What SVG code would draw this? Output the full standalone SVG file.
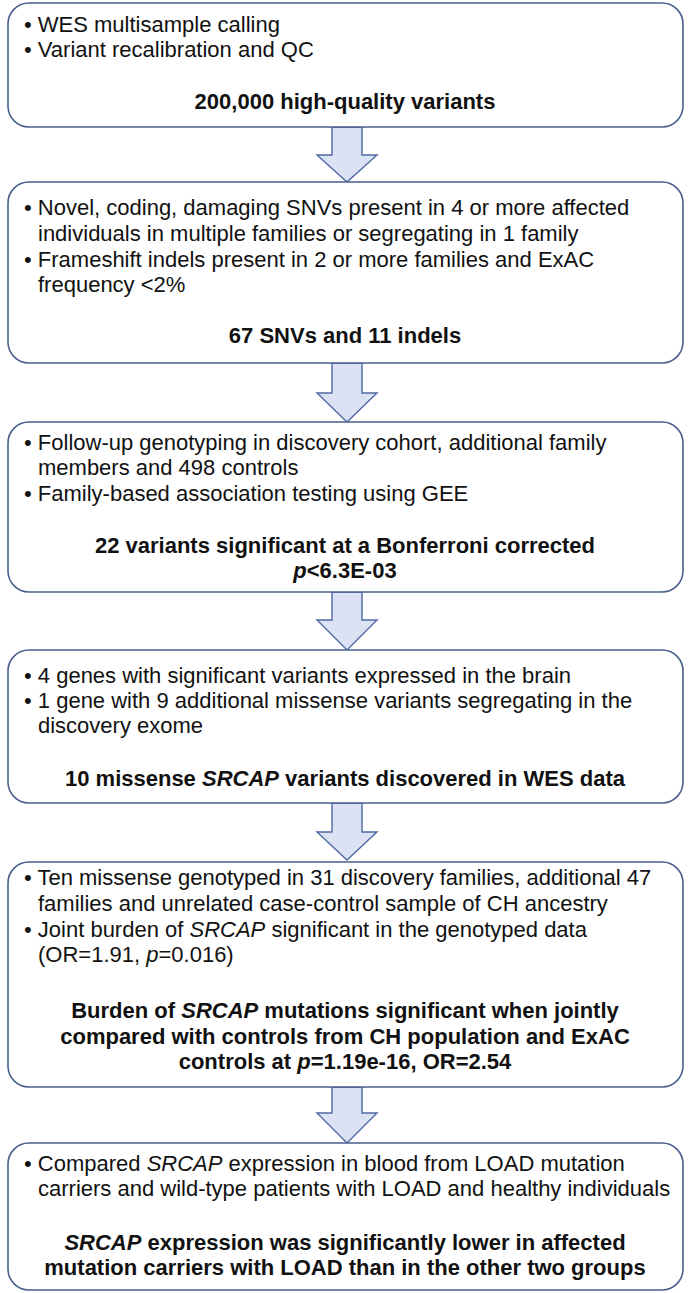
<svg xmlns="http://www.w3.org/2000/svg" width="690" height="1293" viewBox="0 0 690 1293">
<style>
.box{fill:#ffffff;stroke:#4a5f8f;stroke-width:1.6}
.arr{fill:#dbe2f3;stroke:#4f6aa3;stroke-width:1.4;stroke-linejoin:miter}
text{font-family:"Liberation Sans",Arial,sans-serif;font-size:22px;fill:#111}
.b{font-weight:bold;text-anchor:middle}
.i{font-style:italic}
</style>
<rect width="690" height="1293" fill="#ffffff"/>
<g id="connectors">
<path class="arr" d="M332,127 V155 H317 L347,182 L377,155 H362 V127 Z"/>
<path class="arr" d="M332,363 V393 H317 L347,422 L377,393 H362 V363 Z"/>
<path class="arr" d="M332,592 V620 H317 L347,650 L377,620 H362 V592 Z"/>
<path class="arr" d="M332,803 V832 H317 L347,860 L377,832 H362 V803 Z"/>
<path class="arr" d="M332,1087 V1113 H317 L347,1143 L377,1113 H362 V1087 Z"/>
</g>
<g id="node1">
<rect class="box" x="8" y="3" width="675" height="124" rx="21"/>
<text x="24" y="32">• WES multisample calling</text>
<text x="24" y="57">• Variant recalibration and QC</text>
<text class="b" x="345" y="109">200,000 high-quality variants</text>
</g>
<g id="node2">
<rect class="box" x="8" y="182" width="675" height="181" rx="21"/>
<text x="24" y="215">• Novel, coding, damaging SNVs present in 4 or more affected</text>
<text x="38" y="241">individuals in multiple families or segregating in 1 family</text>
<text x="24" y="267">• Frameshift indels present in 2 or more families and ExAC</text>
<text x="38" y="292">frequency &lt;2%</text>
<text class="b" x="345" y="343">67 SNVs and 11 indels</text>
</g>
<g id="node3">
<rect class="box" x="8" y="422" width="675" height="170" rx="21"/>
<text x="24" y="450">• Follow-up genotyping in discovery cohort, additional family</text>
<text x="38" y="475">members and 498 controls</text>
<text x="24" y="501">• Family-based association testing using GEE</text>
<text class="b" x="345" y="553">22 variants significant at a Bonferroni corrected</text>
<text class="b" x="345" y="578"><tspan class="i">p</tspan>&lt;6.3E-03</text>
</g>
<g id="node4">
<rect class="box" x="8" y="650" width="675" height="153" rx="21"/>
<text x="24" y="683">• 4 genes with significant variants expressed in the brain</text>
<text x="24" y="708">• 1 gene with 9 additional missense variants segregating in the</text>
<text x="38" y="733">discovery exome</text>
<text class="b" x="345" y="786">10 missense <tspan class="i">SRCAP</tspan> variants discovered in WES data</text>
</g>
<g id="node5">
<rect class="box" x="8" y="862" width="675" height="225" rx="21"/>
<text x="24" y="885">• Ten missense genotyped in 31 discovery families, additional 47</text>
<text x="38" y="911">families and unrelated case-control sample of CH ancestry</text>
<text x="24" y="937">• Joint burden of <tspan class="i">SRCAP</tspan> significant in the genotyped data</text>
<text x="38" y="962">(OR=1.91, <tspan class="i">p</tspan>=0.016)</text>
<text class="b" x="345" y="1018">Burden of <tspan class="i">SRCAP</tspan> mutations significant when jointly</text>
<text class="b" x="345" y="1044">compared with controls from CH population and ExAC</text>
<text class="b" x="345" y="1069">controls at <tspan class="i">p</tspan>=1.19e-16, OR=2.54</text>
</g>
<g id="node6">
<rect class="box" x="8" y="1143" width="675" height="147" rx="21"/>
<text x="24" y="1171">• Compared <tspan class="i">SRCAP</tspan> expression in blood from LOAD mutation</text>
<text x="38" y="1196">carriers and wild-type patients with LOAD and healthy individuals</text>
<text class="b" x="345" y="1250"><tspan class="i">SRCAP</tspan> expression was significantly lower in affected</text>
<text class="b" x="345" y="1275">mutation carriers with LOAD than in the other two groups</text>
</g>
</svg>
